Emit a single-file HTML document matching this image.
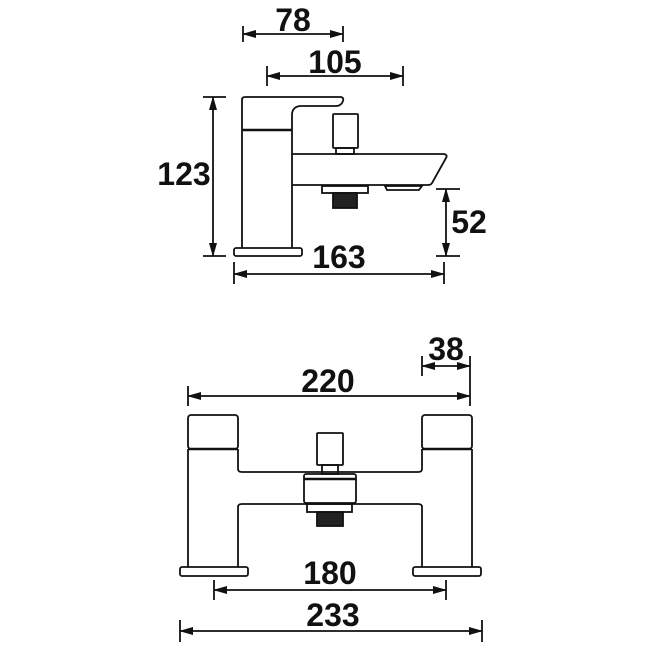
<!DOCTYPE html>
<html><head><style>body{margin:0;background:#fff}svg{display:block}text{font-family:"Liberation Sans",sans-serif;font-weight:bold;font-size:32px;fill:#111}</style></head><body>
<svg width="650" height="650" viewBox="0 0 650 650">
<defs><marker id="a" markerWidth="14" markerHeight="8" refX="13" refY="4" orient="auto-start-reverse" markerUnits="userSpaceOnUse"><path d="M0,0L14,4L0,8z" fill="#111"/></marker></defs>
<g stroke="#111" stroke-width="1.8" fill="none">
<line x1="243" y1="34" x2="343" y2="34" marker-start="url(#a)" marker-end="url(#a)"/>
<line x1="243" y1="26" x2="243" y2="42"/><line x1="343" y1="26" x2="343" y2="42"/>
<line x1="267" y1="76" x2="403" y2="76" marker-start="url(#a)" marker-end="url(#a)"/>
<line x1="267" y1="66" x2="267" y2="86"/><line x1="403" y1="66" x2="403" y2="86"/>
<line x1="213" y1="97" x2="213" y2="256" marker-start="url(#a)" marker-end="url(#a)"/>
<line x1="203" y1="97" x2="226" y2="97"/><line x1="203" y1="256" x2="226" y2="256"/>
<line x1="446" y1="189" x2="446" y2="256" marker-start="url(#a)" marker-end="url(#a)"/>
<line x1="436" y1="189" x2="460" y2="189"/><line x1="436" y1="256" x2="460" y2="256"/>
<line x1="234" y1="274" x2="444" y2="274" marker-start="url(#a)" marker-end="url(#a)"/>
<line x1="234" y1="262" x2="234" y2="284"/><line x1="444" y1="262" x2="444" y2="284"/>
<line x1="188" y1="396" x2="470" y2="396" marker-start="url(#a)" marker-end="url(#a)"/>
<line x1="188" y1="386" x2="188" y2="406"/><line x1="470" y1="356" x2="470" y2="406"/>
<line x1="422" y1="366" x2="470" y2="366" marker-start="url(#a)" marker-end="url(#a)"/>
<line x1="422" y1="356" x2="422" y2="376"/>
<line x1="214" y1="590" x2="446" y2="590" marker-start="url(#a)" marker-end="url(#a)"/>
<line x1="214" y1="580" x2="214" y2="600"/><line x1="446" y1="580" x2="446" y2="600"/>
<line x1="180" y1="631" x2="482" y2="631" marker-start="url(#a)" marker-end="url(#a)"/>
<line x1="180" y1="620" x2="180" y2="642"/><line x1="482" y1="620" x2="482" y2="642"/>
<path d="M242,248V100Q242,97 245,97H341Q345,98 342,103Q340,106 336,106H300Q292,107 292,115V248"/>
<line x1="242" y1="130" x2="292" y2="130" stroke-width="2.5"/>
<rect x="234" y="248" width="68" height="8" rx="2"/>
<path d="M292,154H444Q448,155 446,158L432,183Q431,185 428,185H292"/>
<rect x="333" y="114" width="25" height="34" rx="1"/>
<rect x="336" y="148" width="18" height="6"/>
<rect x="322" y="186" width="46" height="7"/>
<rect x="333" y="193" width="24" height="15" fill="#222"/>
<path d="M385,186H422L419,190H387Z"/>
<rect x="188" y="415" width="50" height="34" rx="3"/>
<rect x="422" y="415" width="50" height="34" rx="3"/>
<line x1="188" y1="449" x2="238" y2="449" stroke-width="2.5"/><line x1="422" y1="449" x2="472" y2="449" stroke-width="2.5"/>
<path d="M188,449V567M238,449V469Q238,472 242,472H418Q422,472 422,469V449M472,449V567"/>
<path d="M238,567V507Q238,504 242,504H418Q422,504 422,507V567"/>
<rect x="180" y="567" width="68" height="9" rx="2"/>
<rect x="413" y="567" width="68" height="9" rx="2"/>
<rect x="317" y="433" width="26" height="32" rx="1"/>
<rect x="322" y="465" width="16" height="9"/>
<rect x="304" y="474" width="52" height="29" rx="2"/>
<line x1="304" y1="479" x2="356" y2="479" stroke-width="2.5"/>
<rect x="307" y="504" width="45" height="8"/>
<rect x="317" y="512" width="26" height="14" fill="#222"/>
</g>
<text x="293" y="31" text-anchor="middle">78</text>
<text x="335" y="73" text-anchor="middle">105</text>
<text x="184" y="185" text-anchor="middle">123</text>
<text x="469" y="233" text-anchor="middle">52</text>
<text x="339" y="268" text-anchor="middle">163</text>
<text x="328" y="392" text-anchor="middle">220</text>
<text x="446" y="360" text-anchor="middle">38</text>
<text x="330" y="584" text-anchor="middle">180</text>
<text x="333" y="626" text-anchor="middle">233</text>
</svg>
</body></html>
